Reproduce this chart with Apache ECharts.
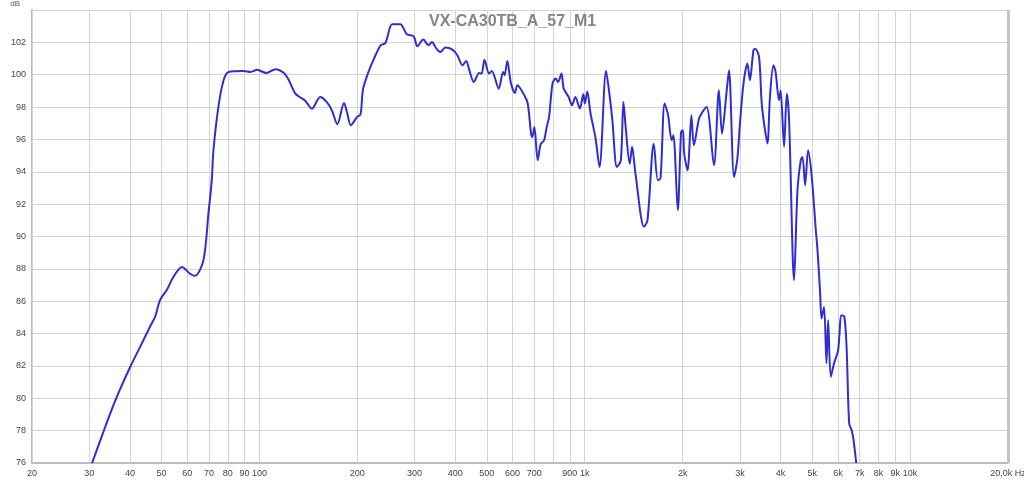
<!DOCTYPE html>
<html>
<head>
<meta charset="utf-8">
<script src="https://cdn.jsdelivr.net/npm/echarts@6/dist/echarts.min.js"></script>
<style>html,body{margin:0;padding:0;background:#fff}#c{width:1024px;height:483px}</style>
</head>
<body>
<div id="c"></div>
<script>
const chartTitle = 'VX-CA30TB_A_57_M1';
const freqHz = [30.6,34.8,37.2,40.1,43.0,46.1,47.8,49.5,51.9,54.4,57.8,61.2,63.4,67.3,69.7,71.4,72.2,74.8,77.6,80.4,89.5,93.9,98.5,105,112,118.9,123.2,129,133.8,138.5,145,153.8,161,167,173.6,182,185.8,191,199.6,204.6,208,214.6,225,236,244,256,271,284,298,306,319,331,339,350,360,373,392,406,421,432,442,456,474,482,492,508,518,544,561,567,578,593,610,621,652,668,684,690,700,717,732,750,764,777,796,814,828,848,862,892,914,936,966,990,1001,1018,1042,1078,1110,1163,1187,1216,1256,1291,1315,1336,1375,1398,1432,1522,1559,1630,1678,1710,1760,1804,1850,1873,1932,1978,2003,2022,2070,2128,2165,2246,2303,2370,2496,2584,2642,2730,2776,2878,2946,3000,3076,3162,3220,3300,3340,3434,3497,3558,3644,3710,3802,3860,3956,4000,4100,4178,4248,4400,4508,4614,4670,4758,4860,4987,5132,5194,5292,5345,5440,5534,5600,5706,5840,6010,6156,6280,6380,6498,6610,6704,6830];
const splDb = [76.0,79.07,80.5,81.95,83.18,84.42,85.04,86.07,86.69,87.5,88.12,87.7,87.57,88.54,91.4,93.5,95.3,98.0,99.66,100.17,100.23,100.17,100.3,100.1,100.34,100.1,99.66,98.83,98.59,98.38,97.9,98.63,98.32,97.8,96.94,98.25,97.7,96.88,97.39,97.56,99.04,99.97,100.99,101.82,101.96,103.12,103.12,102.5,102.37,101.76,102.17,101.82,102.02,101.61,101.4,101.68,101.55,101.2,100.58,100.85,100.27,99.55,100.1,100.07,100.93,100.07,100.23,99.14,100.17,99.97,100.85,99.49,98.87,99.35,98.73,98.22,96.36,96.15,96.77,94.71,95.7,95.95,96.77,97.39,99.45,99.76,99.55,100.07,99.14,98.63,98.11,98.63,97.91,98.79,98.22,98.97,97.6,96.15,94.3,100.23,99.04,97.19,94.3,94.71,98.32,96.77,94.5,95.54,93.89,90.6,91.0,95.74,93.48,93.6,98.22,97.5,95.95,96.26,91.63,96.46,96.57,95.13,94.1,97.5,95.64,97.29,97.7,98.0,94.4,99.04,96.36,98.97,100.27,93.68,94.82,96.98,99.45,100.69,99.66,101.51,101.6,101.1,98.32,96.98,95.75,98.63,100.58,100.17,98.42,99.04,95.54,98.83,97.19,87.3,92.86,94.72,94.92,93.17,95.33,93.69,90.4,89.16,86.5,84.94,85.65,82.16,84.83,81.33,82.16,82.98,85.14,85.04,83.18,78.45,78.04,77.42,76.0];
const gridFreqs = [20,30,40,50,60,70,80,90,100,200,300,400,500,600,700,800,900,1000,2000,3000,4000,5000,6000,7000,8000,9000,10000,20000];
const gridLabels = ['20','30','40','50','60','70','80','90','100','200','300','400','500','600','700','','900','1k','2k','3k','4k','5k','6k','7k','8k','9k','10k','20,0k Hz'];
const yTicks = {min: 76, max: 104, step: 2};

const chart = echarts.init(document.getElementById('c'));
const FONT = 'Liberation Sans, Arial, sans-serif';
const gridColor = '#d4d4d4';
const points = freqHz.map((f, i) => [f, splDb[i]]);
const marks = gridFreqs.map((f, i) => ({
  xAxis: f,
  lineStyle: { type: 'solid', width: f === 20000 ? 3 : 1, color: f === 20000 ? '#c4c4c4' : gridColor },
  label: { formatter: gridLabels[i] }
}));

chart.setOption({
  animation: false,
  backgroundColor: '#fff',
  title: {
    text: chartTitle, left: 424, top: 9,
    textStyle: { fontFamily: FONT, fontSize: 16, fontWeight: 'bold', color: '#858585' }
  },
  grid: { left: 32, right: 16, top: 10, bottom: 20, containLabel: false },
  xAxis: {
    type: 'log', logBase: 10, min: 20, max: 20000,
    axisLine: { show: true, onZero: false, lineStyle: { color: '#bcbcbc', width: 2 } },
    axisTick: { show: false }, axisLabel: { show: false }, splitLine: { show: false }, minorTick: {show:false}
  },
  yAxis: {
    type: 'value', min: yTicks.min, max: yTicks.max, interval: yTicks.step,
    name: 'dB', nameLocation: 'end', nameGap: 2,
    nameTextStyle: { fontFamily: FONT, fontSize: 8, color: '#555', align: 'right', padding: [0, 12, 0, 0] },
    axisLine: { show: true, lineStyle: { color: '#bcbcbc', width: 2 } },
    axisTick: { show: false },
    axisLabel: { fontFamily: FONT, fontSize: 9, color: '#444', margin: 6,
      formatter: v => (v === yTicks.max ? '' : String(v)) },
    splitLine: { show: true, lineStyle: { type: 'solid', color: gridColor, width: 1 } }
  },
  series: [
    {
      type: 'line', data: [], z: 1, silent: true,
      markLine: {
        silent: true, z: 1, symbol: ['none', 'none'], animation: false,
        lineStyle: { type: 'solid' },
        label: { show: true, position: 'start', distance: 6, fontFamily: FONT, fontSize: 9, color: '#444' },
        emphasis: { disabled: true },
        data: marks
      }
    },
    {
      type: 'line', data: points, z: 3, showSymbol: false, smooth: 0.3, clip: true,
      lineStyle: { color: '#2e2ed2', width: 2 }
    }
  ]
});
</script>
</body>
</html>
